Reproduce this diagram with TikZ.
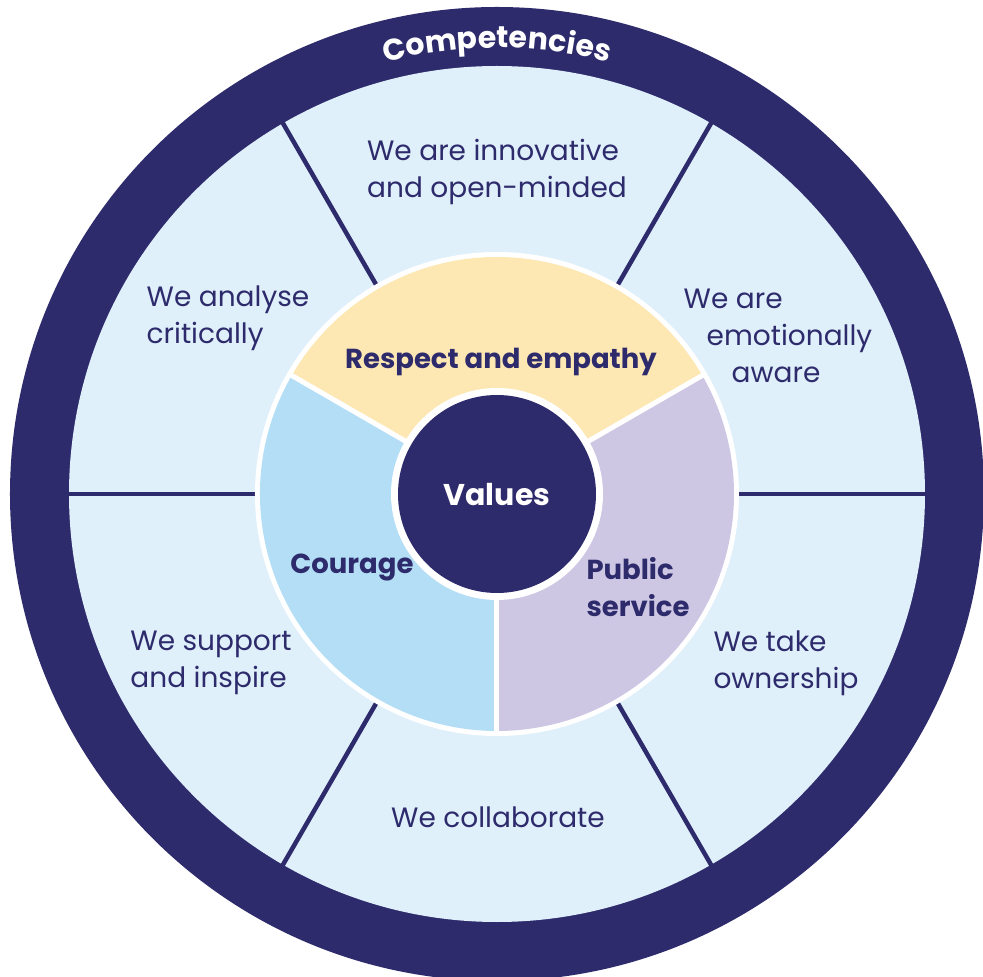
\documentclass[tikz,border=0pt]{standalone}
\usepackage{fontspec}
\setmainfont{Poppins}
\usetikzlibrary{decorations.text}
\definecolor{navy}{HTML}{2E2B6C}
\definecolor{paleblue}{HTML}{DFF0FB}
\definecolor{sand}{HTML}{FDE8B4}
\definecolor{skyblue}{HTML}{B4DEF6}
\definecolor{lilac}{HTML}{CEC7E4}
\tikzset{
  comp/.style={text=navy, font=\fontsize{28}{37}\selectfont, align=left, inner sep=0pt},
  val/.style={text=navy, font=\bfseries\fontsize{27.5}{37}\selectfont, align=left, inner sep=0pt},
  spoke/.style={draw=navy, line width=4.5pt},
  gap/.style={draw=white, line width=5pt},
}
\begin{document}
\begin{tikzpicture}[x=1pt,y=1pt]
  \useasboundingbox (-497,-483) rectangle (486,494);
  \fill[white] (-497,-483) rectangle (486,494);
  \fill[navy] (0,0) circle[radius=487pt];%outer ring
  \fill[paleblue] (0,0) circle[radius=428pt];
  \foreach \a in {0,60,...,300}
    \draw[spoke] (\a:236) -- (\a:429);
  \path[decorate,decoration={text along path,text align=center,
      text={|\bfseries\fontsize{30}{32}\selectfont\color{white}|Competencies}}]
    (150:446) arc[start angle=150,end angle=30,radius=446pt];
  % values ring
  \fill[white] (0,0) circle[radius=242pt];
  \fill[sand] (0,0) -- (30:237) arc[start angle=30,end angle=150,radius=237pt] -- cycle;
  \fill[skyblue] (0,0) -- (150:237) arc[start angle=150,end angle=270,radius=237pt] -- cycle;
  \fill[lilac] (0,0) -- (270:237) arc[start angle=270,end angle=390,radius=237pt] -- cycle;
  \foreach \a in {30,150,270}
    \draw[gap] (0,0) -- (\a:240);
  \fill[white] (0,0) circle[radius=106pt];
  \fill[navy] (0,0) circle[radius=99pt];
  % texts
  \node[val, text=white, font=\bfseries\fontsize{30}{36}\selectfont] (values) at (0,-1) {Values};
  \node[val] (respect) at (4,132) {Respect and empathy};
  \node[val] (courage) at (-145,-74) {Courage};
  \node[val] (public) at (141,-93) {Public\\service};
  \node[comp] (innov) at (0,322) {We are innovative\\and open-minded};
  \node[comp] (analyse) at (-269,176) {We analyse\\critically};
  \node[comp] (aware) at (281,158) {We are\\\hspace*{23pt}emotionally\\\hspace*{48pt}aware};
  \node[comp] (support) at (-286,-169) {We support\\and inspire};
  \node[comp] (owner) at (289,-169) {We take\\ownership};
  \node[comp] (collab) at (1,-323) {We collaborate};
\end{tikzpicture}
\end{document}
